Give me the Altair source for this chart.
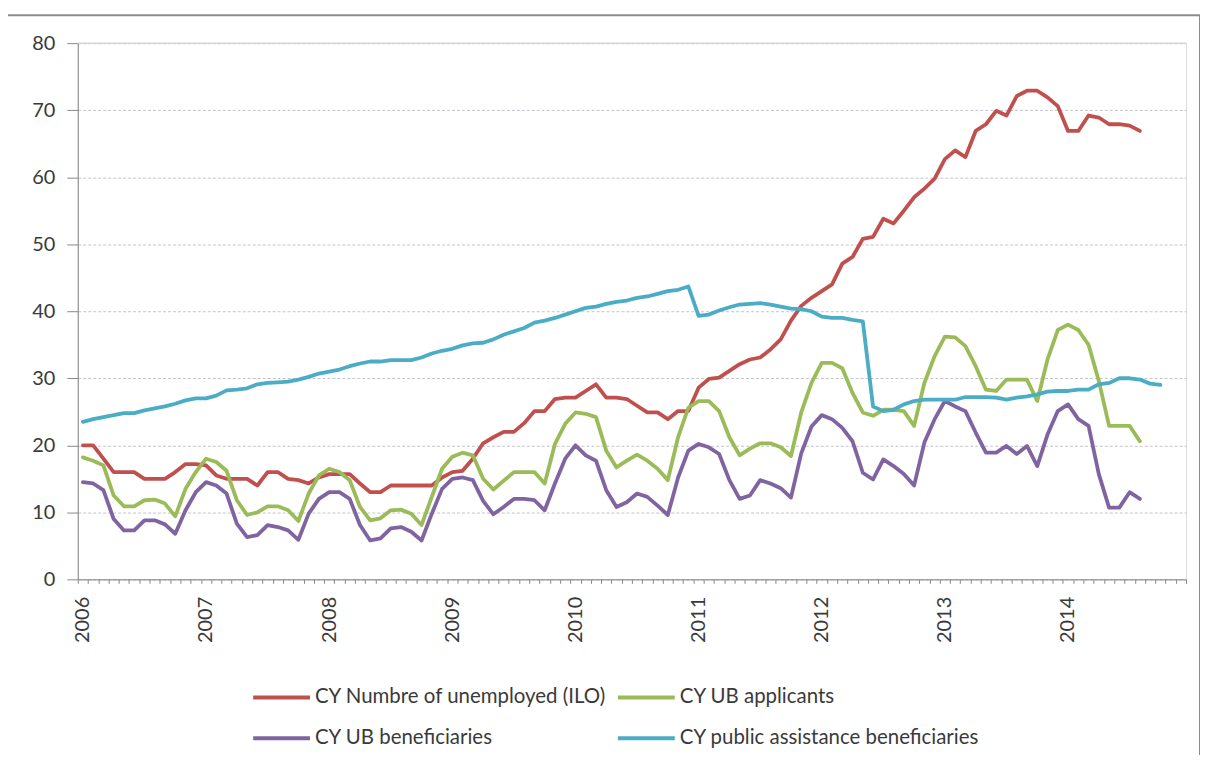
import altair as alt
import pandas as pd

start_year = 2006
n_months = 108  # 2006-01 .. 2014-12 categories on the axis

series_names = [
    "CY Numbre of unemployed (ILO)",
    "CY UB applicants",
    "CY UB beneficiaries",
    "CY public assistance beneficiaries",
]
colors = ["#C0504D", "#9BBB59", "#8064A2", "#4BACC6"]

unemployed = [
    20, 20, 18, 16, 16, 16, 15, 15, 15, 16, 17.2, 17.2,
    17, 15.5, 15, 15, 15, 14, 16, 16, 15, 14.8, 14.3, 15.2,
    15.7, 15.7, 15.7, 14.3, 13, 13, 14, 14, 14, 14, 14, 15.2,
    16, 16.2, 18, 20.3, 21.2, 22, 22, 23.3, 25.1, 25.1, 26.9, 27.1,
    27.1, 28.1, 29.1, 27.1, 27.1, 26.9, 25.9, 24.9, 24.9, 23.9, 25.1, 25.1,
    28.6, 29.9, 30.1, 31.1, 32.1, 32.8, 33.1, 34.3, 35.8, 38.6, 40.8, 42,
    43, 44, 47.1, 48.1, 50.8, 51.1, 53.8, 53.1, 55, 57, 58.3, 59.8,
    62.7, 64, 63, 66.9, 67.9, 69.9, 69.2, 72.1, 72.9, 72.9, 71.9, 70.6,
    66.9, 66.9, 69.2, 68.9, 67.9, 67.9, 67.7, 66.9,
]
ub_applicants = [
    18.2, 17.7, 17, 12.5, 10.9, 10.9, 11.8, 11.9, 11.3, 9.4, 13.5, 16,
    18, 17.5, 16.2, 11.8, 9.6, 10, 10.9, 10.9, 10.3, 8.7, 12.8, 15.5,
    16.5, 16, 14.8, 10.8, 8.8, 9.1, 10.3, 10.4, 9.8, 8.1, 12.3, 16.5,
    18.3, 18.9, 18.5, 15, 13.4, 14.7, 16, 16, 16, 14.3, 20.2, 23.2,
    24.9, 24.7, 24.2, 19.2, 16.7, 17.7, 18.6, 17.7, 16.5, 14.8, 21.2, 25.6,
    26.6, 26.6, 25.1, 21.2, 18.5, 19.5, 20.3, 20.3, 19.7, 18.4, 24.9, 29.3,
    32.3, 32.3, 31.5, 27.8, 24.9, 24.4, 25.3, 25.3, 25.1, 22.9, 29.3, 33.3,
    36.2, 36.1, 34.8, 31.8, 28.3, 28.1, 29.8, 29.8, 29.8, 26.6, 32.8, 37.2,
    38, 37.2, 35, 29.6, 22.9, 22.9, 22.9, 20.6,
]
ub_beneficiaries = [
    14.5, 14.3, 13.3, 9, 7.3, 7.3, 8.8, 8.8, 8.2, 6.8, 10.3, 13,
    14.5, 14, 12.8, 8.3, 6.3, 6.6, 8.1, 7.8, 7.3, 5.9, 9.8, 12,
    13, 13, 12, 8.1, 5.8, 6.1, 7.6, 7.8, 7.1, 5.8, 9.8, 13.5,
    15, 15.2, 14.8, 11.7, 9.7, 10.8, 12, 12, 11.8, 10.3, 14.3, 18,
    20, 18.5, 17.7, 13.3, 10.8, 11.5, 12.8, 12.3, 11, 9.6, 15.2, 19.2,
    20.2, 19.7, 18.7, 14.8, 12, 12.5, 14.8, 14.3, 13.6, 12.2, 18.8, 22.8,
    24.5, 23.9, 22.6, 20.6, 15.9, 14.9, 17.9, 16.9, 15.7, 14, 20.4, 23.9,
    26.6, 25.8, 25.1, 21.9, 18.9, 18.9, 19.9, 18.7, 19.9, 16.9, 21.6, 25.1,
    26.1, 23.9, 22.9, 15.7, 10.7, 10.7, 13, 12,
]
public_assistance = [
    23.5, 23.9, 24.2, 24.5, 24.8, 24.8, 25.2, 25.5, 25.8, 26.2, 26.7, 27,
    27, 27.4, 28.2, 28.3, 28.5, 29.1, 29.3, 29.4, 29.5, 29.8, 30.2, 30.7,
    31, 31.3, 31.8, 32.2, 32.5, 32.5, 32.7, 32.7, 32.7, 33.1, 33.7, 34.1,
    34.4, 34.9, 35.2, 35.3, 35.8, 36.5, 37, 37.5, 38.3, 38.6, 39, 39.5,
    40, 40.5, 40.7, 41.1, 41.4, 41.6, 42, 42.2, 42.6, 43, 43.2, 43.7,
    39.3, 39.5, 40.1, 40.6, 41, 41.1, 41.2, 41, 40.7, 40.4, 40.3, 40,
    39.2, 39, 39, 38.7, 38.5, 25.8, 25.1, 25.3, 26.1, 26.6, 26.8, 26.8,
    26.8, 26.8, 27.2, 27.2, 27.2, 27.1, 26.8, 27.1, 27.3, 27.6, 28, 28.1,
    28.1, 28.3, 28.3, 29.1, 29.3, 30, 30, 29.8, 29.2, 29,
]

rows = []
for k, (name, vals) in enumerate(
    zip(series_names, [unemployed, ub_applicants, ub_beneficiaries, public_assistance])
):
    for i, v in enumerate(vals):
        rows.append({"series": name, "month": i + 0.5, "value": v, "k": k})
df = pd.DataFrame(rows)

# legend fills column by column: order so rows read red/green, purple/cyan
legend_order = [0, 2, 1, 3]
legend_domain = [series_names[j] for j in legend_order]
legend_range = [colors[j] for j in legend_order]

font = "Lato"
text_color = "#3a3a3a"
axis_color = "#888888"

label_expr = (
    f"datum.value % 12 == 0 && datum.value < {n_months} "
    f"? toString({start_year} + datum.value / 12) : ''"
)

lines = (
    alt.Chart(df)
    .mark_line(strokeWidth=3.8, strokeJoin="round", strokeCap="round")
    .encode(
        x=alt.X(
            "month:Q",
            scale=alt.Scale(domain=[0, n_months], nice=False, zero=False),
            axis=alt.Axis(
                values=list(range(0, n_months + 1)),
                labelExpr=label_expr,
                title=None,
                grid=False,
                tickSize=4,
                tickColor=axis_color,
                domainColor=axis_color,
                labelAngle=-90,
                labelOffset=5,
                labelPadding=13,
                labelOverlap=False,
                labelFlush=False,
                labelFont=font,
                labelFontSize=20,
                labelColor=text_color,
            ),
        ),
        y=alt.Y(
            "value:Q",
            scale=alt.Scale(domain=[0, 80], nice=False),
            axis=alt.Axis(
                values=list(range(0, 81, 10)),
                title=None,
                tickSize=11,
                tickColor=axis_color,
                domainColor=axis_color,
                labelPadding=12,
                labelFont=font,
                labelFontSize=20,
                labelColor=text_color,
                grid=True,
                gridDash=[3, 2],
                gridColor="#c4c4cc",
            ),
        ),
        color=alt.Color(
            "series:N",
            scale=alt.Scale(domain=legend_domain, range=legend_range),
            legend=alt.Legend(
                title=None,
                orient="none",
                legendX=174,
                legendY=626,
                columns=2,
                columnPadding=3,
                rowPadding=-13,
                padding=0,
                symbolType="stroke",
                symbolSize=3249,
                symbolStrokeWidth=4,
                labelOffset=3,
                labelFont=font,
                labelFontSize=20.5,
                labelColor=text_color,
                labelLimit=0,
            ),
        ),
        order=alt.Order("k:Q"),
    )
)

# solid top gridline at 80
top_grid = alt.Chart(pd.DataFrame({"v": [80]})).mark_rule(
    color="#d6d6d6", strokeWidth=1.2
).encode(y=alt.Y("v:Q"))

# chart-area border (top edge and right edge)
border_top = alt.Chart(pd.DataFrame({"a": [0]})).mark_rule(
    color="#8c8c8c", strokeWidth=2
).encode(x=alt.value(-78), x2=alt.value(1127), y=alt.value(-28))
border_right = alt.Chart(pd.DataFrame({"a": [0]})).mark_rule(
    color="#8c8c8c", strokeWidth=2
).encode(x=alt.value(1126), y=alt.value(-28), y2=alt.value(720))

chart = (
    alt.layer(top_grid, lines, border_top, border_right)
    .properties(
        width=1112,
        height=538,
        autosize=alt.AutoSizeParams(type="none"),
        padding={"left": 70, "top": 34, "right": 14, "bottom": 175},
    )
    .configure_view(stroke=None)
    .configure(background="white")
)

chart.save("out.html", embed_options={"renderer": "svg", "actions": False})
